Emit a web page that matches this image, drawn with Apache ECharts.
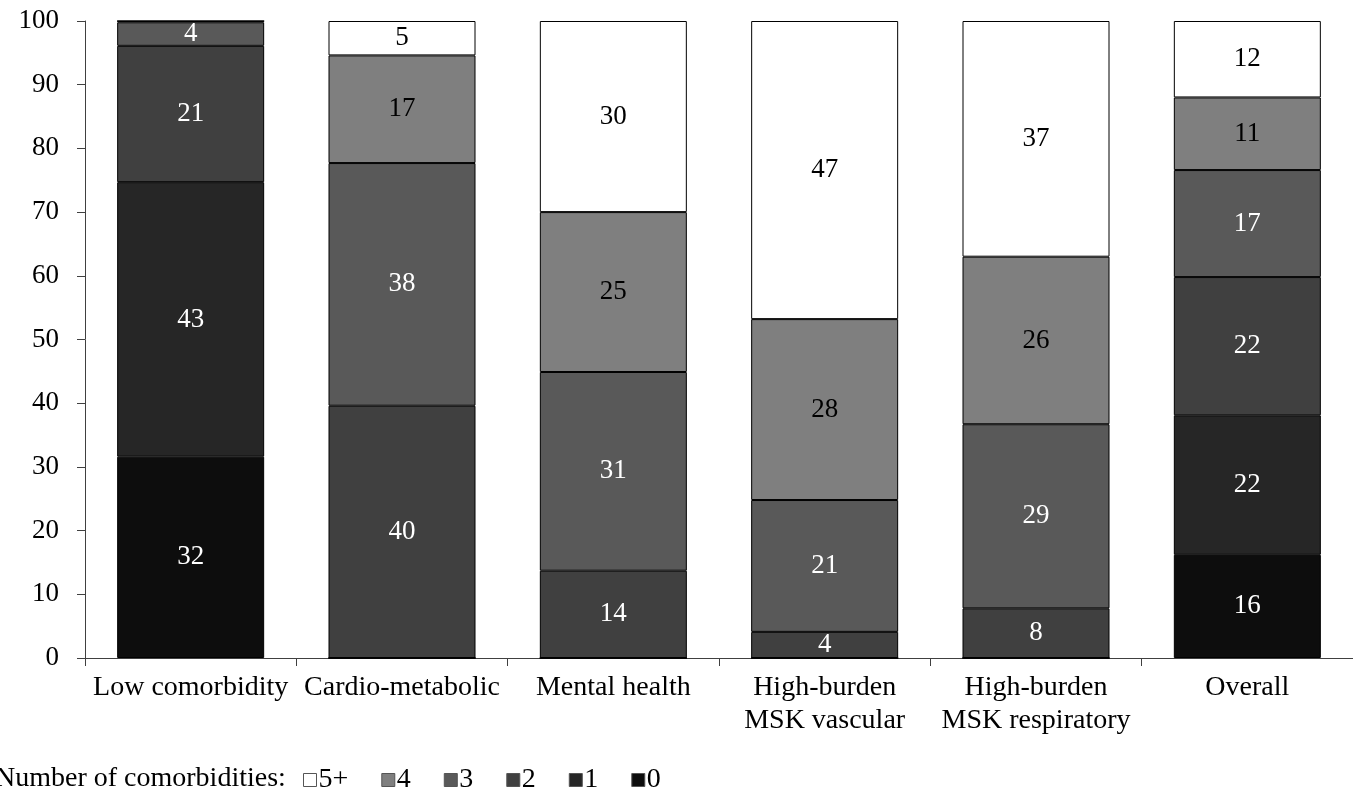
<!DOCTYPE html>
<html><head><meta charset="utf-8">
<script src="https://cdn.jsdelivr.net/npm/echarts@6/dist/echarts.min.js"></script>
<style>html,body{margin:0;padding:0;background:#fff}#c{width:1353px;height:795px}</style>
</head><body><div id="c"></div>
<script>
const categories = ['Low comorbidity', 'Cardio-metabolic', 'Mental health', 'High-burden\nMSK vascular', 'High-burden\nMSK respiratory', 'Overall'];
const seriesNames = ['0', '1', '2', '3', '4', '5+'];
const s0 = [31.6, 0, 0, 0, 0, 16.2];
const s1 = [43.1, 0, 0, 0, 0, 21.9];
const s2 = [21.4, 39.6, 13.7, 4.1, 7.8, 21.7];
const s3 = [3.7, 38.1, 31.2, 20.7, 28.9, 16.8];
const s4 = [0.2, 16.9, 25.1, 28.4, 26.3, 11.4];
const s5 = [0, 5.4, 30.0, 46.8, 37.0, 12.0];
const yTicks = [0, 10, 20, 30, 40, 50, 60, 70, 80, 90, 100];

const seriesData = [s0, s1, s2, s3, s4, s5];
const colors = ['#0d0d0d', '#262626', '#404040', '#595959', '#7f7f7f', '#ffffff'];
const labelColors = ['#fff', '#fff', '#fff', '#fff', '#000', '#000'];
const FONT = 'Liberation Serif';

const chart = echarts.init(document.getElementById('c'));
const series = seriesData.map((d, i) => ({
  name: seriesNames[i],
  type: 'bar',
  stack: 'total',
  barWidth: 147,
  data: d,
  itemStyle: { color: colors[i], borderColor: '#000', borderWidth: 1 },
  label: {
    show: true,
    position: 'inside',
    fontFamily: FONT,
    fontSize: 27,
    color: labelColors[i],
    formatter: p => (p.value >= 1 ? Math.round(p.value) : '')
  },
  emphasis: { disabled: true }
}));

chart.setOption({
  animation: false,
  grid: { left: 85, top: 21, width: 1288, height: 637, containLabel: false },
  xAxis: {
    type: 'category',
    data: categories,
    axisLine: { lineStyle: { color: '#404040', width: 1 } },
    axisTick: { show: true, length: 8, lineStyle: { color: '#404040' } },
    axisLabel: { fontFamily: FONT, fontSize: 28, color: '#000', margin: 13, lineHeight: 33, interval: 0 }
  },
  yAxis: {
    type: 'value',
    min: 0, max: 100, interval: 10,
    axisLine: { show: true, lineStyle: { color: '#404040', width: 1 } },
    axisTick: { show: true, length: 8, lineStyle: { color: '#404040' } },
    splitLine: { show: false },
    axisLabel: { fontFamily: FONT, fontSize: 27, color: '#000', margin: 26,
      formatter: v => (yTicks.includes(v) ? String(v) : '') }
  },
  legend: {
    data: ['5+', '4', '3', '2', '1', '0'],
    left: 298, top: 761,
    icon: 'rect', itemWidth: 13, itemHeight: 13, itemGap: 33,
    itemStyle: { borderColor: '#555', borderWidth: 1 },
    textStyle: { fontFamily: FONT, fontSize: 28, color: '#000', padding: [0, 0, 0, -3] },
    selectedMode: false
  },
  graphic: [{
    type: 'text', left: -5, top: 765,
    style: { text: 'Number of comorbidities:', font: '28px "Liberation Serif"', fill: '#000' }
  }],
  series: series
});
</script></body></html>
